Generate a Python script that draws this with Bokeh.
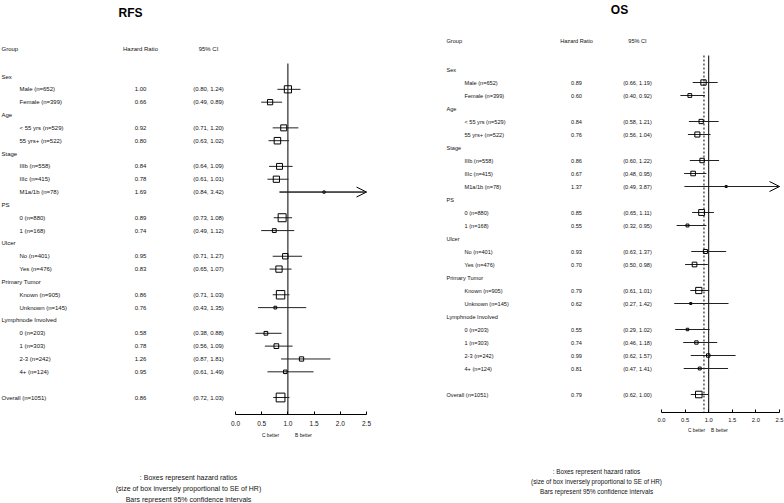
import math
from bokeh.plotting import figure
from bokeh.models import (ColumnDataSource, Range1d, LinearAxis, FixedTicker,
                          PrintfTickFormatter, Arrow, OpenHead)
from bokeh.layouts import row
from bokeh.embed import file_html
from bokeh.resources import INLINE
from bokeh.core.properties import value

# ---------------- data ----------------
row_labels = ["Sex", "Male (n=652)", "Female (n=399)",
              "Age", "< 55 yrs (n=529)", "55 yrs+ (n=522)",
              "Stage", "IIIb (n=558)", "IIIc (n=415)", "M1a/1b (n=78)",
              "PS", "0 (n=880)", "1 (n=168)",
              "Ulcer", "No (n=401)", "Yes (n=476)",
              "Primary Tumor", "Known (n=905)", "Unknown (n=145)",
              "Lymphnode Involved", "0 (n=203)", "1 (n=303)", "2-3 (n=242)", "4+ (n=124)",
              "Overall (n=1051)"]
row_kind = ["group", "sub", "sub",
            "group", "sub", "sub",
            "group", "sub", "sub", "sub",
            "group", "sub", "sub",
            "group", "sub", "sub",
            "group", "sub", "sub",
            "group", "sub", "sub", "sub", "sub",
            "overall"]

rfs_hr = [None, 1.00, 0.66, None, 0.92, 0.80, None, 0.84, 0.78, 1.69, None, 0.89, 0.74,
          None, 0.95, 0.83, None, 0.86, 0.76, None, 0.58, 0.78, 1.26, 0.95, 0.86]
rfs_lo = [None, 0.80, 0.49, None, 0.71, 0.63, None, 0.64, 0.61, 0.84, None, 0.73, 0.49,
          None, 0.71, 0.65, None, 0.71, 0.43, None, 0.38, 0.56, 0.87, 0.61, 0.72]
rfs_hi = [None, 1.24, 0.89, None, 1.20, 1.02, None, 1.09, 1.01, 3.42, None, 1.08, 1.12,
          None, 1.27, 1.07, None, 1.03, 1.35, None, 0.88, 1.09, 1.81, 1.49, 1.03]

os_hr = [None, 0.89, 0.60, None, 0.84, 0.76, None, 0.86, 0.67, 1.37, None, 0.85, 0.55,
         None, 0.93, 0.70, None, 0.79, 0.62, None, 0.55, 0.74, 0.99, 0.81, 0.79]
os_lo = [None, 0.66, 0.40, None, 0.58, 0.56, None, 0.60, 0.48, 0.49, None, 0.65, 0.32,
         None, 0.63, 0.50, None, 0.61, 0.27, None, 0.29, 0.46, 0.62, 0.47, 0.62]
os_hi = [None, 1.19, 0.92, None, 1.21, 1.04, None, 1.22, 0.95, 3.87, None, 1.11, 0.95,
         None, 1.37, 0.98, None, 1.01, 1.42, None, 1.02, 1.18, 1.57, 1.41, 1.00]

x_ticks = [0.0, 0.5, 1.0, 1.5, 2.0, 2.5]
os_dashed_ref = 0.9
footnote = [": Boxes represent hazard ratios",
            "(size of box inversely proportional to SE of HR)",
            "Bars represent 95% confidence intervals"]
side_labels = ["C better", "B better"]

FONT = value("Liberation Sans")
W, H = 392, 503


def make_panel(title, hr, lo, hi, cfg):
    xoff, x0, sc, r0, rs = cfg["xoff"], cfg["x0"], cfg["scale"], cfg["r0"], cfg["rs"]

    def hx(img_x):
        return (img_x - xoff - x0) / sc

    def vy(img_y):
        return (img_y - r0) / rs

    p = figure(width=W, height=H, output_backend="svg", toolbar_location=None,
               x_axis_location=None, y_axis_location=None,
               x_range=Range1d(hx(xoff), hx(xoff + W)),
               y_range=Range1d(vy(H), vy(0)),
               min_border=0, min_border_left=0, min_border_right=0,
               min_border_top=0, min_border_bottom=0)
    p.outline_line_color = None
    p.grid.visible = False

    # row positions
    ys = []
    y = 0
    for k in row_kind:
        if k == "overall":
            y += 1
        ys.append(y)
        y += 1

    axis_y = vy(cfg["axis_y"])
    top_y = vy(cfg["ref_top"])
    xmax = x_ticks[-1]

    # labels
    lab_x = [hx(cfg["sub_x"]) if k == "sub" else hx(cfg["group_x"]) for k in row_kind]
    p.text(x=lab_x, y=ys, text=row_labels, text_font=FONT,
           text_font_size=value(cfg["fs"]), text_baseline="middle", text_align="left",
           text_color="#111111")
    idx = [i for i, v in enumerate(hr) if v is not None]
    hr_txt = ["%.2f" % hr[i] for i in idx]
    ci_txt = ["(%.2f, %.2f)" % (lo[i], hi[i]) for i in idx]
    yv = [ys[i] for i in idx]
    p.text(x=[hx(cfg["hr_x"])] * len(idx), y=yv, text=hr_txt, text_font=FONT,
           text_font_size=value(cfg["fs"]), text_baseline="middle", text_align="center",
           text_color="#111111")
    p.text(x=[hx(cfg["ci_x"])] * len(idx), y=yv, text=ci_txt, text_font=FONT,
           text_font_size=value(cfg["fs"]), text_baseline="middle", text_align="center",
           text_color="#111111")

    # header
    hy = vy(cfg["head_y"])
    p.text(x=[hx(cfg["group_x"])], y=[hy], text=["Group"], text_font=FONT,
           text_font_size=value(cfg["fs"]), text_baseline="middle", text_align="left",
           text_color="#111111")
    p.text(x=[hx(cfg["hr_x"]), hx(cfg["ci_x"])], y=[hy, hy], text=["Hazard Ratio", "95% CI"],
           text_font=FONT, text_font_size=value(cfg["fs"]), text_baseline="middle",
           text_align="center", text_color="#111111")

    # title
    p.text(x=[hx(cfg["title_x"])], y=[vy(cfg["title_y"])], text=[title],
           text_font=value("Liberation Sans"), text_font_style=value("bold"),
           text_font_size=value("12px"), text_baseline="middle", text_align="center",
           text_color="#000000")

    # reference lines
    p.segment(x0=[1.0], y0=[top_y], x1=[1.0], y1=[axis_y], line_color="black", line_width=1)
    if cfg.get("dashed") is not None:
        p.segment(x0=[cfg["dashed"]], y0=[top_y], x1=[cfg["dashed"]], y1=[axis_y],
                  line_color="black", line_width=1, line_dash="2 2")

    # CI bars and boxes (box size inversely proportional to SE of HR)
    sizes = []
    for i in idx:
        se = (math.log(hi[i]) - math.log(lo[i])) / 3.92
        sizes.append(max(2.0, 0.8 / se))
    src = ColumnDataSource(dict(
        y=yv, hr=[hr[i] for i in idx], lo=[lo[i] for i in idx],
        hic=[min(hi[i], xmax) for i in idx], size=sizes))
    p.segment(x0="lo", y0="y", x1="hic", y1="y", source=src, line_color="#222222",
              line_width=1)
    p.scatter(x="hr", y="y", size="size", marker="square", source=src,
              fill_alpha=0, line_color="black", line_width=1)

    over = [i for i in idx if hi[i] > xmax]
    if over:
        asrc = ColumnDataSource(dict(x0=[lo[i] for i in over], y0=[ys[i] for i in over],
                                     x1=[xmax] * len(over), y1=[ys[i] for i in over]))
        p.add_layout(Arrow(end=OpenHead(size=10, line_width=1, line_color="black"),
                           x_start="x0", y_start="y0", x_end="x1", y_end="y1",
                           source=asrc, line_color="#222222", line_width=1))

    # axis
    ax = LinearAxis(fixed_location=axis_y, bounds=(x_ticks[0], x_ticks[-1]),
                    ticker=FixedTicker(ticks=x_ticks),
                    formatter=PrintfTickFormatter(format="%.1f"))
    ax.major_tick_in = 3
    ax.major_tick_out = 0
    ax.minor_tick_line_color = None
    ax.axis_line_color = "black"
    ax.major_tick_line_color = "black"
    ax.major_label_text_font = "Liberation Sans"
    ax.major_label_text_font_size = cfg["tick_fs"]
    ax.major_label_text_color = "#111111"
    ax.major_label_standoff = cfg["tick_standoff"]
    p.add_layout(ax, "below")

    # C better / B better
    cb_y = vy(cfg["cb_y"])
    p.text(x=[hx(cfg["c_x"]), hx(cfg["b_x"])], y=[cb_y, cb_y], text=side_labels,
           text_font=FONT, text_font_size=value("4.8px"), text_baseline="middle",
           text_align="center", text_color="#111111")

    # footnote
    fy = [vy(v) for v in cfg["foot_y"]]
    p.text(x=[hx(cfg["foot_x"])] * 3, y=fy, text=footnote, text_font=FONT,
           text_font_size=value(cfg["foot_fs"]), text_baseline="middle",
           text_align="center", text_color="#111111")
    return p


left_cfg = dict(xoff=0, x0=235, scale=52.4, r0=76, rs=12.84,
                group_x=1, sub_x=19, hr_x=140, ci_x=208, head_y=48,
                title_x=130, title_y=12, axis_y=414, ref_top=63,
                cb_y=435, c_x=270, b_x=303, foot_x=188, foot_y=[477, 488, 499],
                fs="6px", foot_fs="7px", tick_fs="6.5px", tick_standoff=6, dashed=None)
right_cfg = dict(xoff=392, x0=661 - 392, scale=47.2, r0=69, rs=13.0,
                 group_x=446, sub_x=464, hr_x=576, ci_x=637, head_y=40,
                 title_x=619, title_y=9, axis_y=412, ref_top=55,
                 cb_y=430, c_x=696, b_x=719, foot_x=596, foot_y=[471, 481, 491],
                 fs="5.6px", foot_fs="6.3px", tick_fs="5.8px", tick_standoff=5,
                 dashed=os_dashed_ref)

p1 = make_panel("RFS", rfs_hr, rfs_lo, rfs_hi, left_cfg)
p2 = make_panel("OS", os_hr, os_lo, os_hi, right_cfg)
layout = row(p1, p2)

with open("out.html", "w") as f:
    f.write(file_html(layout, INLINE))
